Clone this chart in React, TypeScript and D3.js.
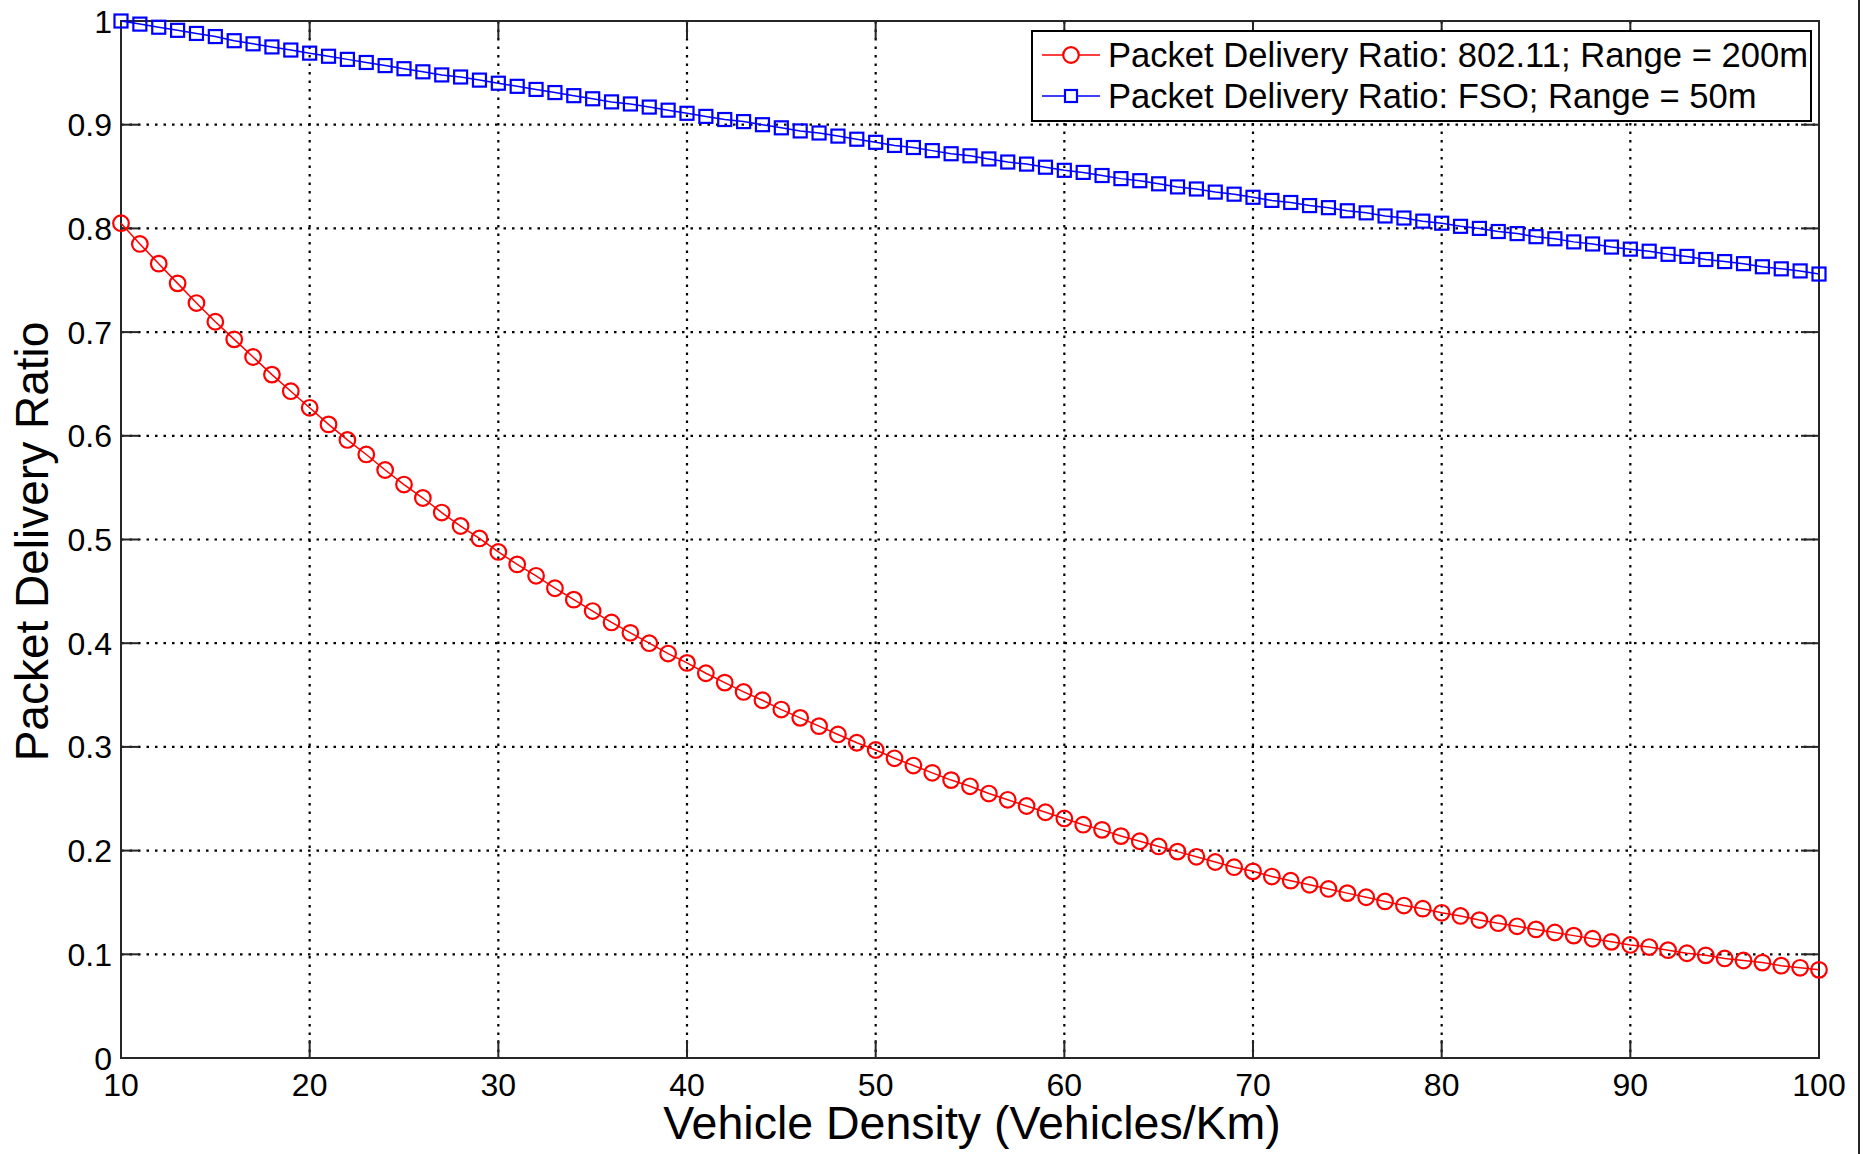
import React from 'react';
import * as d3 from 'd3';

// vehicle density (vehicles/km), one point per vehicle
const density = d3.range(10, 101);

// 802.11, range 200m
const pdr80211 = [
  0.805, 0.785, 0.766, 0.747, 0.728, 0.710, 0.693, 0.676, 0.659, 0.643,
  0.627, 0.611, 0.596, 0.582, 0.567, 0.553, 0.540, 0.526, 0.513, 0.501,
  0.488, 0.476, 0.465, 0.453, 0.442, 0.431, 0.420, 0.410, 0.400, 0.390,
  0.381, 0.371, 0.362, 0.353, 0.345, 0.336, 0.328, 0.320, 0.312, 0.304,
  0.297, 0.289, 0.282, 0.275, 0.268, 0.262, 0.255, 0.249, 0.243, 0.237,
  0.231, 0.225, 0.220, 0.214, 0.209, 0.204, 0.199, 0.194, 0.189, 0.184,
  0.180, 0.175, 0.171, 0.167, 0.163, 0.159, 0.155, 0.151, 0.147, 0.144,
  0.140, 0.137, 0.133, 0.130, 0.127, 0.124, 0.121, 0.118, 0.115, 0.112,
  0.109, 0.107, 0.104, 0.101, 0.099, 0.096, 0.094, 0.092, 0.089, 0.087,
  0.085,
];

// FSO, range 50m
const pdrFso = [
  1.000, 0.997, 0.994, 0.991, 0.988, 0.985, 0.981, 0.978, 0.975, 0.972,
  0.969, 0.966, 0.963, 0.960, 0.957, 0.954, 0.951, 0.948, 0.946, 0.943,
  0.940, 0.937, 0.934, 0.931, 0.928, 0.925, 0.922, 0.920, 0.917, 0.914,
  0.911, 0.908, 0.905, 0.903, 0.900, 0.897, 0.894, 0.892, 0.889, 0.886,
  0.883, 0.880, 0.878, 0.875, 0.872, 0.870, 0.867, 0.864, 0.862, 0.859,
  0.856, 0.854, 0.851, 0.848, 0.846, 0.843, 0.840, 0.838, 0.835, 0.833,
  0.830, 0.827, 0.825, 0.822, 0.820, 0.817, 0.815, 0.812, 0.810, 0.807,
  0.805, 0.802, 0.800, 0.797, 0.795, 0.792, 0.790, 0.787, 0.785, 0.782,
  0.780, 0.778, 0.775, 0.773, 0.770, 0.768, 0.766, 0.763, 0.761, 0.759,
  0.756,
];

const xTicks = [10, 20, 30, 40, 50, 60, 70, 80, 90, 100];
const yTicks = [0, 0.1, 0.2, 0.3, 0.4, 0.5, 0.6, 0.7, 0.8, 0.9, 1];
const legendLabels = [
  'Packet Delivery Ratio: 802.11; Range = 200m',
  'Packet Delivery Ratio: FSO; Range = 50m',
];

const W = 1872, H = 1154;
const left = 121, right = 1819, top = 21, bottom = 1058;
const font = '"Liberation Sans", Arial, Helvetica, sans-serif';
const axisColor = '#262626';

export default function App() {
  const x = d3.scaleLinear().domain([10, 100]).range([left, right]);
  const y = d3.scaleLinear().domain([0, 1]).range([bottom, top]);

  const line = d3.line<number>()
    .x((_, i) => x(density[i]))
    .y(d => y(d));

  const tickLen = 18;
  const sq = 13;

  return (
    <svg width={W} height={H} style={{ position: 'absolute', left: 0, top: 0, background: '#fff' }}
      fontFamily={font}>
      <rect width={W} height={H} fill="#fff" />

      {/* grid */}
      {xTicks.slice(1, -1).map(t => (
        <line key={'gx' + t} x1={x(t)} x2={x(t)} y1={top} y2={bottom}
          stroke="#000" strokeWidth={2.2} strokeDasharray="2.5,6" />
      ))}
      {yTicks.slice(1, -1).map(t => (
        <line key={'gy' + t} x1={left} x2={right} y1={y(t)} y2={y(t)}
          stroke="#000" strokeWidth={2.2} strokeDasharray="2.5,6" />
      ))}

      {/* ticks, inward on all four sides */}
      {xTicks.map(t => (
        <g key={'tx' + t} stroke={axisColor} strokeWidth={2}>
          <line x1={x(t)} x2={x(t)} y1={bottom} y2={bottom - tickLen} />
          <line x1={x(t)} x2={x(t)} y1={top} y2={top + tickLen} />
        </g>
      ))}
      {yTicks.map(t => (
        <g key={'ty' + t} stroke={axisColor} strokeWidth={2}>
          <line x1={left} x2={left + tickLen} y1={y(t)} y2={y(t)} />
          <line x1={right} x2={right - tickLen} y1={y(t)} y2={y(t)} />
        </g>
      ))}

      {/* axes box */}
      <rect x={left} y={top} width={right - left} height={bottom - top}
        fill="none" stroke={axisColor} strokeWidth={2} />

      {/* tick labels */}
      {xTicks.map(t => (
        <text key={'lx' + t} x={x(t)} y={1096} fontSize={32} textAnchor="middle" fill="#000">{t}</text>
      ))}
      {yTicks.map(t => (
        <text key={'ly' + t} x={112} y={y(t)} dy="0.36em" fontSize={32} textAnchor="end" fill="#000">{t}</text>
      ))}

      {/* axis titles */}
      <text x={(left + right) / 2 + 2} y={1139} fontSize={46.5} textAnchor="middle" fill="#000">
        Vehicle Density (Vehicles/Km)
      </text>
      <text transform={`translate(48,${(top + bottom) / 2 + 2}) rotate(-90)`} fontSize={46}
        textAnchor="middle" fill="#000">
        Packet Delivery Ratio
      </text>

      {/* 802.11 series */}
      <path d={line(pdr80211) ?? ''} fill="none" stroke="#ff0000" strokeWidth={1.5} />
      {pdr80211.map((v, i) => (
        <circle key={'c' + i} cx={x(density[i])} cy={y(v)} r={7.8}
          fill="none" stroke="#ff0000" strokeWidth={2.2} />
      ))}

      {/* FSO series */}
      <path d={line(pdrFso) ?? ''} fill="none" stroke="#0000ff" strokeWidth={1.5} />
      {pdrFso.map((v, i) => (
        <rect key={'s' + i} x={x(density[i]) - sq / 2} y={y(v) - sq / 2} width={sq} height={sq}
          fill="none" stroke="#0000ff" strokeWidth={2.2} />
      ))}

      {/* legend */}
      <rect x={1032} y={31} width={779} height={90} fill="#fff" stroke="#000" strokeWidth={2} />
      <g>
        <line x1={1042} x2={1100} y1={55} y2={55} stroke="#ff0000" strokeWidth={1.5} />
        <circle cx={1071} cy={55} r={7.8} fill="#fff" stroke="#ff0000" strokeWidth={2.2} />
        <text x={1108} y={55} dy="0.36em" fontSize={34.6} fill="#000">{legendLabels[0]}</text>
        <line x1={1042} x2={1100} y1={96} y2={96} stroke="#0000ff" strokeWidth={1.5} />
        <rect x={1065} y={90} width={12} height={12} fill="#fff" stroke="#0000ff" strokeWidth={2.2} />
        <text x={1108} y={96} dy="0.36em" fontSize={34.6} fill="#000">{legendLabels[1]}</text>
      </g>

      {/* page edge line at the right */}
      <line x1={1859} x2={1859} y1={0} y2={H} stroke={axisColor} strokeWidth={2} />
    </svg>
  );
}
